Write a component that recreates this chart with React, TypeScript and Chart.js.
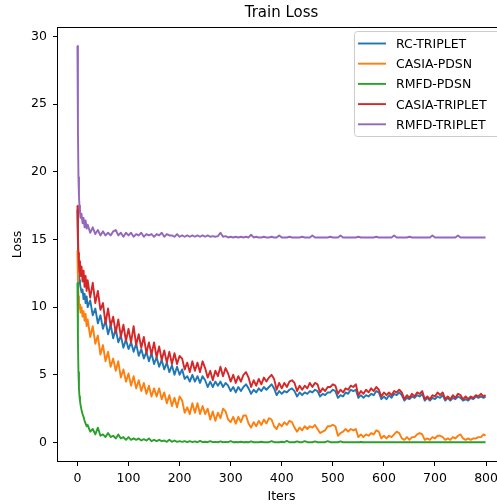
import React, { useEffect, useRef } from "react";
import { Chart, registerables } from "chart.js";

Chart.register(...registerables);

// x positions (iterations)
const iters = [
  0, 1, 2, 3, 4, 5, 6, 8, 10, 12, 14, 16, 18, 20,
  25, 30, 35, 40, 45, 50, 55, 60, 65, 70,
  75, 80, 85, 90, 95, 100, 105, 110, 115, 120,
  125, 130, 135, 140, 145, 150, 155, 160, 165, 170,
  175, 180, 185, 190, 195, 200, 205, 210, 215, 220,
  225, 230, 235, 240, 245, 250, 255, 260, 265, 270,
  275, 280, 285, 290, 295, 300, 305, 310, 315, 320,
  325, 330, 335, 340, 345, 350, 355, 360, 365, 370,
  375, 380, 385, 390, 395, 400, 405, 410, 415, 420,
  425, 430, 435, 440, 445, 450, 455, 460, 465, 470,
  475, 480, 485, 490, 495, 500, 505, 510, 515, 520,
  525, 530, 535, 540, 545, 550, 555, 560, 565, 570,
  575, 580, 585, 590, 595, 600, 605, 610, 615, 620,
  625, 630, 635, 640, 645, 650, 655, 660, 665, 670,
  675, 680, 685, 690, 695, 700, 705, 710, 715, 720,
  725, 730, 735, 740, 745, 750, 755, 760, 765, 770,
  775, 780, 785, 790, 795, 799,
];

const rcTriplet = [
  17.2, 14.6, 13.2, 12.4, 12.0, 11.7, 11.5, 11.1, 11.3, 10.6, 11.0, 10.3, 10.8, 10.0,
  10.5, 9.4, 9.9, 8.8, 9.4, 8.4, 9.0, 8.0, 8.7, 7.7,
  8.4, 7.4, 7.9, 7.0, 7.6, 6.9, 7.4, 6.7, 7.3, 6.4,
  6.9, 6.2, 6.7, 6.0, 6.6, 5.8, 6.3, 5.6, 6.1, 5.4,
  5.9, 5.2, 5.7, 5.0, 5.6, 5.0, 5.4, 4.7, 4.9, 4.5,
  5.0, 4.5, 4.9, 4.4, 4.9, 4.6, 4.1, 4.5, 4.1, 4.5,
  4.2, 4.5, 4.1, 4.4, 4.2, 3.8, 4.1, 3.7, 4.1, 3.8,
  4.1, 4.3, 4.0, 3.6, 3.9, 3.7, 4.0, 3.8, 4.1, 3.9,
  4.1, 4.3, 4.0, 3.5, 3.8, 3.6, 3.8, 3.7, 3.9, 4.0,
  3.8, 3.4, 3.7, 3.5, 3.7, 3.6, 3.8, 3.7, 3.9, 3.8,
  3.4, 3.6, 3.5, 3.7, 3.7, 3.9, 3.8, 3.3, 3.5, 3.4,
  3.7, 3.6, 3.9, 3.8, 3.9, 3.3, 3.5, 3.3, 3.5, 3.4,
  3.6, 3.5, 3.8, 3.7, 3.2, 3.4, 3.2, 3.5, 3.3, 3.6,
  3.5, 3.7, 3.5, 3.1, 3.3, 3.2, 3.4, 3.3, 3.5, 3.4,
  3.6, 3.1, 3.3, 3.1, 3.3, 3.2, 3.4, 3.3, 3.5, 3.1,
  3.3, 3.1, 3.3, 3.2, 3.4, 3.3, 3.1, 3.2, 3.1, 3.3,
  3.2, 3.4, 3.3, 3.4, 3.3, 3.4,
];

const casiaPdsn = [
  14.2, 12.0, 10.8, 10.2, 9.9, 10.2, 9.6, 10.0, 9.3, 9.7, 9.0, 9.5, 8.6, 9.1,
  7.8, 8.6, 7.3, 7.9, 6.5, 7.2, 6.0, 6.7, 5.6, 6.2,
  5.3, 6.0, 4.8, 5.4, 4.5, 5.1, 4.2, 4.9, 4.0, 4.6,
  3.8, 4.4, 3.6, 4.2, 3.4, 4.0, 3.4, 4.0, 3.2, 3.7,
  2.9, 3.5, 2.7, 3.3, 2.6, 3.4, 3.1, 2.2, 2.6, 2.1,
  2.9, 2.2, 2.9, 2.1, 2.7, 2.1, 2.5, 1.7, 2.3, 1.6,
  2.2, 1.8, 2.5, 2.3, 1.7, 1.5, 1.9, 1.4, 1.9, 1.5,
  2.0, 2.0, 1.4, 1.1, 1.5, 1.2, 1.6, 1.3, 1.7, 1.4,
  1.8, 1.7, 1.2, 1.0, 1.4, 1.2, 1.5, 1.3, 1.6, 1.5,
  1.1, 0.8, 1.1, 0.9, 1.2, 1.0, 1.2, 1.1, 1.3, 1.0,
  0.7, 0.8, 0.9, 1.2, 1.2, 1.3, 1.2, 0.5, 0.7, 0.8,
  1.0, 0.8, 1.0, 0.9, 1.0, 0.4, 0.6, 0.4, 0.6, 0.5,
  0.7, 0.6, 0.9, 0.8, 0.3, 0.5, 0.3, 0.5, 0.4, 0.6,
  0.8, 0.7, 0.3, 0.2, 0.4, 0.2, 0.4, 0.4, 0.6, 0.7,
  0.6, 0.2, 0.3, 0.2, 0.4, 0.3, 0.5, 0.5, 0.4, 0.2,
  0.3, 0.2, 0.4, 0.3, 0.5, 0.6, 0.3, 0.2, 0.3, 0.2,
  0.3, 0.3, 0.4, 0.4, 0.6, 0.5,
];

const rmfdPdsn = [
  11.8, 7.5, 5.2, 4.0, 3.4, 3.1, 2.8, 2.4, 2.1, 1.9, 1.6, 1.4, 1.2, 1.3,
  0.8, 1.0, 0.6, 1.1, 0.5, 0.6, 0.4, 0.7, 0.4, 0.5,
  0.3, 0.6, 0.3, 0.4, 0.2, 0.4, 0.2, 0.3, 0.2, 0.3,
  0.15, 0.25, 0.15, 0.3, 0.1, 0.2, 0.1, 0.2, 0.1, 0.15,
  0.05, 0.2, 0.05, 0.15, 0.05, 0.1, 0.05, 0.1, 0.03, 0.1,
  0.03, 0.08, 0.02, 0.12, 0.03, 0.06, 0.02, 0.1, 0.03, 0.05,
  0.02, 0.08, 0.02, 0.05, 0.02, 0.1, 0.02, 0.04, 0.02, 0.06,
  0.02, 0.04, 0.02, 0.08, 0.02, 0.03, 0.02, 0.06, 0.02, 0.03,
  0.02, 0.1, 0.02, 0.03, 0.02, 0.06, 0.02, 0.12, 0.02, 0.03,
  0.02, 0.08, 0.02, 0.02, 0.1, 0.02, 0.03, 0.02, 0.08, 0.02,
  0.02, 0.03, 0.02, 0.1, 0.02, 0.02, 0.03, 0.02, 0.08, 0.02,
  0.02, 0.02, 0.03, 0.02, 0.02, 0.02, 0.04, 0.02, 0.02, 0.02,
  0.02, 0.03, 0.02, 0.02, 0.02, 0.02, 0.03, 0.02, 0.02, 0.02,
  0.02, 0.02, 0.02, 0.03, 0.02, 0.02, 0.02, 0.02, 0.02, 0.02,
  0.02, 0.02, 0.03, 0.02, 0.02, 0.02, 0.02, 0.02, 0.02, 0.02,
  0.02, 0.02, 0.02, 0.02, 0.02, 0.03, 0.02, 0.02, 0.02, 0.02,
  0.02, 0.02, 0.02, 0.02, 0.02, 0.02,
];

const casiaTriplet = [
  17.5, 15.2, 14.0, 13.1, 12.6, 13.4, 12.3, 13.0, 11.9, 12.7, 11.5, 12.3, 11.2, 12.0,
  10.7, 11.8, 10.3, 11.2, 9.8, 10.3, 8.8, 9.9, 8.6, 9.3,
  8.1, 9.1, 7.8, 8.7, 7.5, 8.4, 7.4, 8.6, 7.2, 8.0,
  7.0, 7.8, 6.6, 7.4, 6.5, 7.4, 6.3, 7.1, 6.1, 6.8,
  5.9, 6.7, 5.8, 6.6, 5.8, 6.4, 6.2, 5.4, 5.9, 5.2,
  6.0, 5.3, 5.9, 5.2, 6.0, 5.5, 4.8, 5.3, 4.6, 5.3,
  4.9, 5.6, 4.9, 5.5, 5.1, 4.5, 5.0, 4.4, 4.9, 4.5,
  5.0, 5.2, 4.8, 4.1, 4.6, 4.2, 4.7, 4.3, 4.8, 4.5,
  4.8, 5.0, 4.7, 3.9, 4.4, 4.0, 4.4, 4.1, 4.5, 4.6,
  4.4, 3.8, 4.2, 3.9, 4.2, 4.0, 4.4, 4.1, 4.4, 4.3,
  3.7, 4.0, 3.8, 4.1, 4.1, 4.3, 4.2, 3.6, 3.9, 3.7,
  4.0, 3.9, 4.2, 4.1, 4.3, 3.5, 3.8, 3.6, 3.9, 3.7,
  4.0, 3.8, 4.1, 3.9, 3.4, 3.7, 3.5, 3.7, 3.5, 3.8,
  3.7, 3.9, 3.7, 3.2, 3.5, 3.3, 3.6, 3.4, 3.7, 3.6,
  3.8, 3.2, 3.4, 3.2, 3.5, 3.4, 3.7, 3.5, 3.7, 3.2,
  3.4, 3.2, 3.5, 3.3, 3.6, 3.5, 3.2, 3.4, 3.2, 3.4,
  3.3, 3.5, 3.4, 3.6, 3.4, 3.5,
];

const rmfdTriplet = [
  29.3, 23.0, 19.6, 18.2, 17.5, 17.0, 16.6, 16.9, 16.2, 16.6, 15.9, 16.4, 15.8, 16.1,
  15.5, 15.9, 15.4, 15.7, 15.3, 15.6, 15.3, 15.5, 15.3, 15.6,
  15.7, 15.3, 15.5, 15.2, 15.5, 15.3, 15.5, 15.2, 15.4, 15.3,
  15.5, 15.2, 15.4, 15.3, 15.4, 15.2, 15.4, 15.3, 15.5, 15.2,
  15.4, 15.3, 15.3, 15.2, 15.4, 15.2, 15.3, 15.2, 15.3, 15.2,
  15.3, 15.2, 15.3, 15.2, 15.3, 15.2, 15.3, 15.2, 15.25, 15.2,
  15.25, 15.5, 15.2, 15.25, 15.15, 15.2, 15.15, 15.2, 15.15, 15.2,
  15.15, 15.2, 15.15, 15.35, 15.15, 15.2, 15.15, 15.15, 15.2, 15.15,
  15.15, 15.2, 15.15, 15.15, 15.3, 15.15, 15.15, 15.15, 15.2, 15.15,
  15.15, 15.15, 15.15, 15.2, 15.15, 15.15, 15.15, 15.3, 15.15, 15.15,
  15.15, 15.15, 15.15, 15.15, 15.2, 15.15, 15.15, 15.15, 15.3, 15.15,
  15.15, 15.15, 15.15, 15.15, 15.15, 15.2, 15.15, 15.15, 15.15, 15.15,
  15.15, 15.15, 15.2, 15.15, 15.15, 15.15, 15.15, 15.15, 15.15, 15.3,
  15.15, 15.15, 15.15, 15.15, 15.15, 15.2, 15.15, 15.15, 15.15, 15.15,
  15.15, 15.15, 15.15, 15.15, 15.3, 15.15, 15.15, 15.15, 15.15, 15.15,
  15.15, 15.15, 15.15, 15.15, 15.3, 15.15, 15.15, 15.15, 15.15, 15.15,
  15.15, 15.15, 15.15, 15.15, 15.15, 15.15,
];

const seriesNames = ["RC-TRIPLET", "CASIA-PDSN", "RMFD-PDSN", "CASIA-TRIPLET", "RMFD-TRIPLET"];
const seriesColors = ["#1f77b4", "#ff7f0e", "#2ca02c", "#d62728", "#9467bd"];
const xTicks = [0, 100, 200, 300, 400, 500, 600, 700, 800];
const yTicks = [0, 5, 10, 15, 20, 25, 30];

const FONT = "'DejaVu Sans', sans-serif";

export default function App() {
  const ref = useRef<HTMLCanvasElement>(null);

  useEffect(() => {
    const canvas = ref.current;
    if (!canvas) return;
    const allSeries = [rcTriplet, casiaPdsn, rmfdPdsn, casiaTriplet, rmfdTriplet];
    const datasets = allSeries.map((vals, i) => ({
      label: seriesNames[i],
      data: iters.map((x, j) => ({ x, y: vals[j] })),
      borderColor: seriesColors[i],
      backgroundColor: seriesColors[i],
      borderWidth: 1.9,
      borderJoinStyle: "round" as const,
      pointRadius: 0,
      pointHoverRadius: 0,
      tension: 0,
      fill: false,
      order: allSeries.length - i,
    }));

    const framePlugin = {
      id: "frame",
      afterDatasetsDraw(chart: any) {
        const { ctx, chartArea: a } = chart;
        ctx.save();
        ctx.strokeStyle = "#000";
        ctx.lineWidth = 1;
        ctx.strokeRect(a.left + 0.5, a.top + 0.5, a.right - a.left - 1, a.bottom - a.top - 1);
        ctx.restore();
      },
    };

    const legendPlugin = {
      id: "mplLegend",
      afterDraw(chart: any) {
        const ctx = chart.ctx;
        ctx.save();
        const bx = 354.5;
        const by = 31.5;
        const bw = 150;
        const bh = 105;
        ctx.beginPath();
        ctx.roundRect(bx, by, bw, bh, 3);
        ctx.fillStyle = "rgba(255,255,255,0.8)";
        ctx.fill();
        ctx.strokeStyle = "#cccccc";
        ctx.lineWidth = 1;
        ctx.stroke();
        ctx.font = `12.5px ${FONT}`;
        ctx.textBaseline = "middle";
        ctx.textAlign = "left";
        seriesNames.forEach((name, i) => {
          const y = 43.5 + i * 20.2;
          ctx.strokeStyle = seriesColors[i];
          ctx.lineWidth = 1.9;
          ctx.beginPath();
          ctx.moveTo(358, y);
          ctx.lineTo(386, y);
          ctx.stroke();
          ctx.fillStyle = "#000";
          ctx.fillText(name, 396, y + 1.2);
        });
        ctx.restore();
      },
    };

    const tickFont = { family: FONT, size: 12.5 };

    const chart = new Chart(canvas, {
      type: "line",
      data: { datasets: datasets as any },
      options: {
        animation: false,
        responsive: false,
        devicePixelRatio: 1,
        events: [],
        layout: { padding: { left: 0, right: 4, top: 0, bottom: 0 } },
        plugins: {
          legend: { display: false },
          tooltip: { enabled: false },
          title: {
            display: true,
            text: "Train Loss",
            color: "#000",
            font: { family: FONT, size: 15, weight: "normal" },
            padding: { top: 4, bottom: 5 },
            fullSize: false,
          },
        },
        scales: {
          x: {
            type: "linear",
            min: -40,
            max: 839,
            afterBuildTicks: (s: any) => {
              s.ticks = xTicks.map((v) => ({ value: v }));
            },
            afterFit: (s: any) => {
              s.height = 42;
            },
            grid: { drawOnChartArea: false, drawTicks: true, tickLength: 4, color: "#000", lineWidth: 1 },
            border: { display: false },
            ticks: { font: tickFont, color: "#000", padding: 5, maxRotation: 0, autoSkip: false },
            title: {
              display: true,
              text: "Iters",
              color: "#000",
              font: tickFont,
              padding: { top: 0, bottom: 0 },
            },
          },
          y: {
            type: "linear",
            min: -1.44,
            max: 30.7,
            afterBuildTicks: (s: any) => {
              s.ticks = yTicks.map((v) => ({ value: v }));
            },
            afterFit: (s: any) => {
              s.width = 57;
            },
            grid: { drawOnChartArea: false, drawTicks: true, tickLength: 4, color: "#000", lineWidth: 1 },
            border: { display: false },
            ticks: { font: tickFont, color: "#000", padding: 6, autoSkip: false },
            title: {
              display: true,
              text: "Loss",
              color: "#000",
              font: tickFont,
              padding: { top: 10, bottom: 0 },
            },
          },
        },
      },
      plugins: [framePlugin, legendPlugin],
    } as any);

    return () => {
      chart.destroy();
    };
  }, []);

  return (
    <div
      style={{
        position: "fixed",
        left: 0,
        top: 0,
        width: 497,
        height: 504,
        overflow: "hidden",
        background: "#fff",
      }}
    >
      <canvas ref={ref} width={510} height={504} style={{ display: "block", width: 510, height: 504 }} />
    </div>
  );
}
